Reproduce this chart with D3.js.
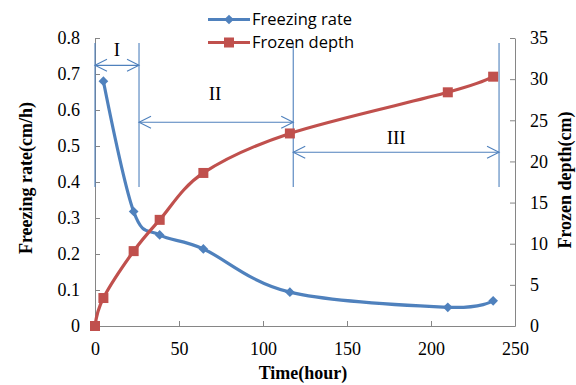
<!DOCTYPE html>
<html>
<head>
<meta charset="utf-8">
<script src="https://cdn.jsdelivr.net/npm/d3@7"></script>
<style>
  body { margin: 0; background: #fff; }
  svg { display: block; }
</style>
</head>
<body>
<svg width="576" height="385"></svg>
<script>
// data
var hours     = [0, 5, 23, 38.5, 64.5, 116, 210, 237];
var rateHours = [5, 23, 38.5, 64.5, 116, 210, 237];
var rate      = [0.68, 0.318, 0.253, 0.214, 0.094, 0.052, 0.070];
var depth     = [0, 3.4, 9.1, 12.9, 18.6, 23.4, 28.4, 30.3];

var xTicks = [0, 50, 100, 150, 200, 250];
var rateTicks = [0, 0.1, 0.2, 0.3, 0.4, 0.5, 0.6, 0.7, 0.8];
var depthTicks = [0, 5, 10, 15, 20, 25, 30, 35];

// stage boundaries (hours) and arrow heights (rate units)
var stageBounds = [0, 26.2, 118, 240.5];
var stageNames = ["I", "II", "III"];
var stageArrowY = [0.724, 0.566, 0.4825];
var stageLabelY = [0.768, 0.645, 0.524];

var svg = d3.select("svg"),
    margin = {top: 38, right: 61, bottom: 59, left: 95},
    width = 576 - margin.left - margin.right,
    height = 385 - margin.top - margin.bottom,
    g = svg.append("g").attr("transform", "translate(" + margin.left + "," + margin.top + ")");

var blue = "#4F81BD", red = "#C0504D", axisCol = "#868686";

var x = d3.scaleLinear().domain([0, 250]).range([0, width]);
var y = d3.scaleLinear().domain([0, 0.8]).range([height, 0]);
var y2 = d3.scaleLinear().domain([0, 35]).range([height, 0]);

// axes
var fmtRate = function(d) { return d === 0 ? "0" : d3.format(".1f")(d); };

var xAxis = g.append("g")
    .attr("transform", "translate(0," + height + ")")
    .call(d3.axisBottom(x).tickValues(xTicks).tickSizeInner(-5).tickSizeOuter(0).tickPadding(16));
var yAxis = g.append("g")
    .call(d3.axisLeft(y).tickValues(rateTicks).tickFormat(fmtRate).tickSizeInner(-5).tickSizeOuter(0).tickPadding(15));
var y2Axis = g.append("g")
    .attr("transform", "translate(" + width + ",0)")
    .call(d3.axisRight(y2).tickValues(depthTicks).tickSizeInner(-5).tickSizeOuter(0).tickPadding(15));

[xAxis, yAxis, y2Axis].forEach(function(a) {
    a.selectAll("path, line").attr("stroke", axisCol).attr("stroke-width", 1);
    a.selectAll("text")
        .attr("fill", "#000")
        .attr("font-family", "Liberation Serif, serif")
        .attr("font-size", 18);
});

// stage annotations
var ann = g.append("g").attr("stroke", blue).attr("stroke-width", 1.1).attr("fill", "none");
stageBounds.forEach(function(b) {
    ann.append("line")
        .attr("x1", x(b)).attr("x2", x(b))
        .attr("y1", y(0.786)).attr("y2", y(0.386));
});
stageNames.forEach(function(n, i) {
    var x0 = x(stageBounds[i]), x1 = x(stageBounds[i + 1]), yy = y(stageArrowY[i]);
    ann.append("line").attr("x1", x0).attr("x2", x1).attr("y1", yy).attr("y2", yy);
    ann.append("path").attr("d", "M" + (x0 + 12) + "," + (yy - 6) + "L" + x0 + "," + yy + "L" + (x0 + 12) + "," + (yy + 6));
    ann.append("path").attr("d", "M" + (x1 - 12) + "," + (yy - 6) + "L" + x1 + "," + yy + "L" + (x1 - 12) + "," + (yy + 6));
    g.append("text")
        .attr("x", (x0 + x1) / 2 + (i == 1 ? -1 : 0))
        .attr("y", y(stageLabelY[i]))
        .attr("dy", "0.35em")
        .attr("text-anchor", "middle")
        .attr("font-family", "Liberation Serif, serif")
        .attr("font-size", 19)
        .text(n);
});

// lines
var depthLine = d3.line()
    .x(function(d, i) { return x(hours[i]); })
    .y(function(d) { return y2(d); })
    .curve(d3.curveCardinal.tension(0));
var rateLine = d3.line()
    .x(function(d, i) { return x(rateHours[i]); })
    .y(function(d) { return y(d); })
    .curve(d3.curveCardinal.tension(0));

g.append("path").datum(rate)
    .attr("fill", "none").attr("stroke", blue).attr("stroke-width", 3.2)
    .attr("d", rateLine);
g.append("path").datum(depth)
    .attr("fill", "none").attr("stroke", red).attr("stroke-width", 3.2)
    .attr("d", depthLine);

var diamond = d3.symbol().type(d3.symbolDiamond2).size(60);
g.selectAll(".rp").data(rate).enter().append("path")
    .attr("class", "rp")
    .attr("transform", function(d, i) { return "translate(" + x(rateHours[i]) + "," + y(d) + ")"; })
    .attr("d", diamond)
    .attr("fill", blue);

g.selectAll(".dp").data(depth).enter().append("rect")
    .attr("class", "dp")
    .attr("x", function(d, i) { return x(hours[i]) - 5; })
    .attr("y", function(d) { return y2(d) - 5; })
    .attr("width", 10).attr("height", 10)
    .attr("fill", red);

// axis titles
svg.append("text")
    .attr("transform", "translate(32,178) rotate(-90)")
    .attr("text-anchor", "middle")
    .attr("font-family", "Liberation Serif, serif")
    .attr("font-weight", "bold")
    .attr("font-size", 18)
    .text("Freezing rate(cm/h)");
svg.append("text")
    .attr("transform", "translate(571,180) rotate(-90)")
    .attr("text-anchor", "middle")
    .attr("font-family", "Liberation Serif, serif")
    .attr("font-weight", "bold")
    .attr("font-size", 18)
    .text("Frozen depth(cm)");
svg.append("text")
    .attr("x", 303)
    .attr("y", 379)
    .attr("text-anchor", "middle")
    .attr("font-family", "Liberation Serif, serif")
    .attr("font-weight", "bold")
    .attr("font-size", 18)
    .text("Time(hour)");

// legend
var legend = svg.append("g").attr("font-family", "Open Sans, sans-serif").attr("font-size", 16.5);
var l1 = legend.append("g").attr("transform", "translate(208,19.5)");
l1.append("line").attr("x1", 0).attr("x2", 42).attr("stroke", blue).attr("stroke-width", 3.2);
l1.append("path").attr("transform", "translate(21,0)").attr("d", diamond).attr("fill", blue);
l1.append("text").attr("x", 44).attr("dy", "0.35em").text("Freezing rate");
var l2 = legend.append("g").attr("transform", "translate(208,42.5)");
l2.append("line").attr("x1", 0).attr("x2", 42).attr("stroke", red).attr("stroke-width", 3.2);
l2.append("rect").attr("x", 16).attr("y", -5).attr("width", 10).attr("height", 10).attr("fill", red);
l2.append("text").attr("x", 44).attr("dy", "0.35em").text("Frozen depth");
</script>
</body>
</html>
